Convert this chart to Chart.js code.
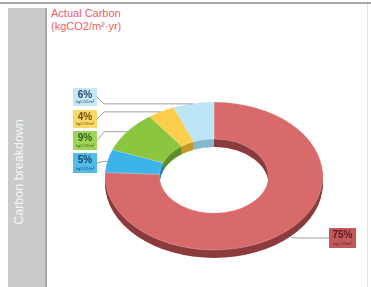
<!DOCTYPE html>
<html>
<head>
<meta charset="utf-8">
<script src="https://cdn.jsdelivr.net/npm/chart.js@4.4.0/dist/chart.umd.min.js"></script>
<style>
  body { margin: 0; background: #fff; font-family: "Liberation Sans", Arial, sans-serif; }
  #wrap { position: relative; width: 371px; height: 287px; overflow: hidden; }
  #topline { position: absolute; left: 0; top: 2px; width: 371px; height: 2px; background: #a8a8a8; }
  #rightline { position: absolute; left: 367px; top: 4px; width: 1px; height: 283px; background: #e4e4e4; }
  #side { position: absolute; left: 8px; top: 8px; width: 37px; height: 279px; background: #c9cccb; border-right: 2px solid #a9abab; }
  #side span { position: absolute; left: 11px; top: 164px; transform: translate(-50%, -50%) rotate(-90deg);
    white-space: nowrap; color: #f4f4f4; font-size: 12.5px; }
  #title { position: absolute; left: 51px; top: 7px; color: #ee5d66; font-size: 11px; line-height: 13px; }
  canvas { position: absolute; left: 0; top: 0; }
</style>
</head>
<body>
<div id="wrap">
  <div id="topline"></div>
  <div id="rightline"></div>
  <div id="side"><span>Carbon breakdown</span></div>
  <div id="title">Actual Carbon<br>(kgCO2/m²·yr)</div>
  <canvas id="myChart" width="371" height="287"></canvas>
</div>
<script>
const ctx = document.getElementById("myChart").getContext("2d");

const labels = ["Structure", "Substructure", "Envelope", "Services", "Internal finishes"];
const values = [75, 5, 9, 4, 6];
const pctLabels = ["75%", "5%", "9%", "4%", "6%"];
const colors = ["#d96a6b", "#3db4e9", "#8cc63f", "#fbcf4c", "#bce5f6"];
const sideColors = ["#8c3b3d", "#217fae", "#5e8f25", "#c39a22", "#86b9cf"];

// label boxes: x, y, w, h, background, text colour
const boxes = [
  [329, 228, 27, 20, "#c25a5c", "#5e1a1e"],
  [73, 153, 24, 20, "#55bbe8", "#17476f"],
  [73, 131, 24, 19, "#9fd45a", "#355f12"],
  [73, 110, 24, 18, "#fbd86a", "#6b5200"],
  [73, 88, 24, 18, "#c7e7f5", "#234b73"],
];

const CY = 176;      // screen centre of the ellipse
const SQ = 0.68;     // vertical squash
const DEPTH = 8;     // 3d thickness

function toScreen(arc, r, a) {
  return { x: arc.x + r * Math.cos(a), y: CY + r * Math.sin(a) * SQ };
}

function squash(chart) {
  const arc = chart.getDatasetMeta(0).data[0];
  ctx.translate(0, CY);
  ctx.scale(1, SQ);
  ctx.translate(0, -arc.y);
}

const pie3d = {
  id: "pie3d",
  beforeDatasetsDraw(chart) {
    const c = chart.ctx;
    const arcs = chart.getDatasetMeta(0).data;
    c.save();
    squash(chart);
    for (let d = DEPTH; d >= 1; d--) {
      arcs.forEach((arc, i) => {
        c.beginPath();
        c.arc(arc.x, arc.y + d / SQ, arc.outerRadius, arc.startAngle, arc.endAngle);
        c.arc(arc.x, arc.y + d / SQ, arc.innerRadius, arc.endAngle, arc.startAngle, true);
        c.closePath();
        c.fillStyle = sideColors[i];
        c.fill();
      });
    }
  },
  afterDatasetsDraw(chart) {
    chart.ctx.restore();
  },
  afterDraw(chart) {
    const c = chart.ctx;
    const arcs = chart.getDatasetMeta(0).data;
    arcs.forEach((arc, i) => {
      const b = boxes[i];
      const mid = (arc.startAngle + arc.endAngle) / 2;
      const p = toScreen(arc, arc.outerRadius, mid);
      const by = b[1] + b[3] / 2;
      c.strokeStyle = "#a0a0a0";
      c.lineWidth = 1;
      c.beginPath();
      if (i === 0) {
        c.moveTo(p.x + 2, p.y + DEPTH);
        c.lineTo(p.x + 10, by);
        c.lineTo(b[0], by);
      } else {
        c.moveTo(b[0] + b[2], by);
        c.lineTo(b[0] + b[2] + 7, p.y + 0.5);
        c.lineTo(p.x, p.y + 0.5);
      }
      c.stroke();
      c.fillStyle = b[4];
      c.fillRect(b[0], b[1], b[2], b[3]);
      c.fillStyle = b[5];
      c.textAlign = "center";
      c.textBaseline = "alphabetic";
      c.font = "bold 10px 'Liberation Sans', Arial, sans-serif";
      c.fillText(pctLabels[i], b[0] + b[2] / 2, b[1] + 10);
      c.font = "4px 'Liberation Sans', Arial, sans-serif";
      c.fillText("kgCO2/m²", b[0] + b[2] / 2, b[1] + b[3] - 3);
    });
  },
};

const data = {
  labels,
  datasets: [
    {
      data: values,
      backgroundColor: colors,
      borderColor: "rgba(255,255,255,0.6)",
      borderWidth: 0.5,
    },
  ],
};

const config = {
  type: "doughnut",
  data: data,
  options: {
    responsive: false,
    animation: false,
    cutout: "50%",
    layout: { padding: { left: 105, right: 48, top: 30, bottom: 39 } },
    plugins: {
      legend: { display: false },
      tooltip: { enabled: false },
    },
  },
  plugins: [pie3d],
};

const myChart = new Chart(ctx, config);
</script>
</body>
</html>
